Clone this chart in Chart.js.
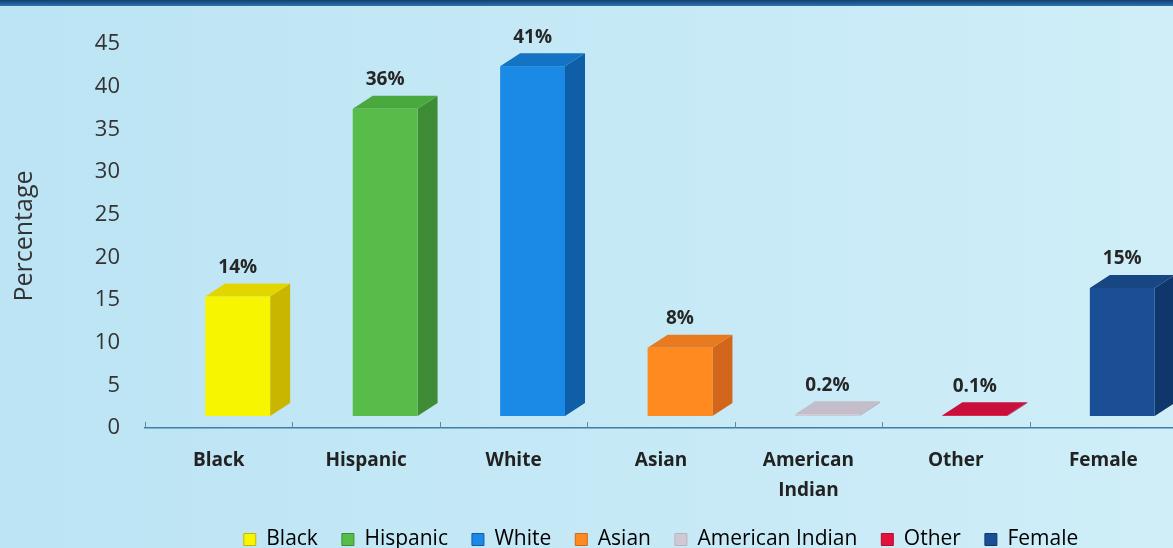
<!DOCTYPE html>
<html>
<head>
<meta charset="utf-8">
<script src="https://cdn.jsdelivr.net/npm/chart.js@4.4.0/dist/chart.umd.min.js"></script>
<style>
  html, body { margin: 0; padding: 0; overflow: hidden; width: 1173px; height: 548px; }
  body { background: linear-gradient(90deg, #bce4f4 0%, #c6e9f6 55%, #cfeef8 100%); }
  #band { position: absolute; left: 0; top: 0; width: 1173px; height: 6px; background: linear-gradient(180deg, #123f72, #2e74ad); }
  #wrap { position: absolute; left: 0; top: 0; width: 1185px; height: 548px; }
</style>
</head>
<body>
<div id="wrap"><canvas id="chart"></canvas></div>
<div id="band"></div>
<script>
// data
const categories = ['Black', 'Hispanic', 'White', 'Asian', ['American', 'Indian'], 'Other', 'Female'];
const legendNames = ['Black', 'Hispanic', 'White', 'Asian', 'American Indian', 'Other', 'Female'];
const values = [14, 36, 41, 8, 0.2, 0.1, 15];
const valueLabels = ['14%', '36%', '41%', '8%', '0.2%', '0.1%', '15%'];
const yMax = 45;
const yStep = 5;

// face colours for the 3D boxes
const frontColors = ['#f7f500', '#58bd48', '#1b8ae6', '#ff8a1f', '#cfc9d3', '#e2123d', '#1a4f95'];
const sideColors  = ['#c9b600', '#3f8c36', '#0e5ea8', '#d2661a', '#b8b3bf', '#b30d30', '#10376c'];
const topColors   = ['#e3d600', '#4aa93e', '#1573c4', '#e87a1f', '#c3bec9', '#c9103a', '#174682'];

const FONT = "'Open Sans', sans-serif";
Chart.defaults.font.family = FONT;

// offsets of the fake perspective (pixels)
const SHIFT_X = 19, SHIFT_Y = 12, DX = 20, DY = 13;

const box3d = {
  id: 'box3d',
  afterDatasetsDraw(chart) {
    const ctx = chart.ctx;
    const area = chart.chartArea;
    const meta = chart.getDatasetMeta(0);

    // little tick marks pointing up from the axis line
    ctx.save();
    ctx.strokeStyle = '#5a8aa6';
    ctx.lineWidth = 1;
    const n = categories.length;
    for (let i = 0; i <= n; i++) {
      const x = Math.round(area.left + i * (area.right - area.left) / n) + 0.5;
      ctx.beginPath();
      ctx.moveTo(x, area.bottom);
      ctx.lineTo(x, area.bottom - 6);
      ctx.stroke();
    }

    meta.data.forEach((bar, i) => {
      const w = bar.width;
      const l = bar.x - w / 2 + SHIFT_X, r = l + w;
      const t = bar.y - SHIFT_Y, b = bar.base - SHIFT_Y;

      ctx.fillStyle = sideColors[i];
      ctx.beginPath();
      ctx.moveTo(r, t); ctx.lineTo(r + DX, t - DY); ctx.lineTo(r + DX, b - DY); ctx.lineTo(r, b);
      ctx.closePath(); ctx.fill();

      ctx.fillStyle = topColors[i];
      ctx.beginPath();
      ctx.moveTo(l, t); ctx.lineTo(l + DX, t - DY); ctx.lineTo(r + DX, t - DY); ctx.lineTo(r, t);
      ctx.closePath(); ctx.fill();

      ctx.fillStyle = frontColors[i];
      ctx.fillRect(l, t, w, b - t);

      ctx.fillStyle = '#262626';
      ctx.font = 'bold 19px ' + FONT;
      ctx.textAlign = 'center';
      ctx.textBaseline = 'middle';
      ctx.fillText(valueLabels[i], l + w / 2, t - DY - 16);
    });
    ctx.restore();
  }
};

new Chart(document.getElementById('chart'), {
  type: 'bar',
  data: {
    labels: categories,
    datasets: [{
      data: values,
      backgroundColor: 'rgba(0,0,0,0)',
      borderWidth: 0,
      categoryPercentage: 1,
      barPercentage: 0.44
    }]
  },
  options: {
    responsive: true,
    maintainAspectRatio: false,
    animation: false,
    layout: { padding: { top: 44, right: 8, bottom: -12 } },
    scales: {
      y: {
        min: 0,
        max: yMax,
        ticks: { stepSize: yStep, color: '#333', font: { size: 22 }, padding: 17 },
        grid: { display: false },
        border: { display: false },
        title: { display: true, text: 'Percentage', color: '#333', font: { size: 25 }, padding: { top: 10, bottom: 0 } },
        afterFit(scale) { scale.width = 145; }
      },
      x: {
        grid: { display: false },
        border: { color: '#3f7fa6', width: 1.5 },
        ticks: { color: '#222', font: { size: 19, weight: 'bold', lineHeight: 1.6 }, padding: 9, maxRotation: 0, autoSkip: false },
        afterFit(scale) { scale.height = 77; }
      }
    },
    plugins: {
      legend: {
        position: 'bottom',
        fullSize: false,
        labels: {
          boxWidth: 12,
          boxHeight: 12,
          padding: 24,
          color: '#333',
          font: { size: 21 },
          generateLabels: () => legendNames.map((name, i) => ({
            text: name, fillStyle: frontColors[i], strokeStyle: sideColors[i], lineWidth: 1, hidden: false, index: i
          }))
        }
      },
      tooltip: { enabled: false }
    }
  },
  plugins: [box3d]
});
</script>
</body>
</html>
